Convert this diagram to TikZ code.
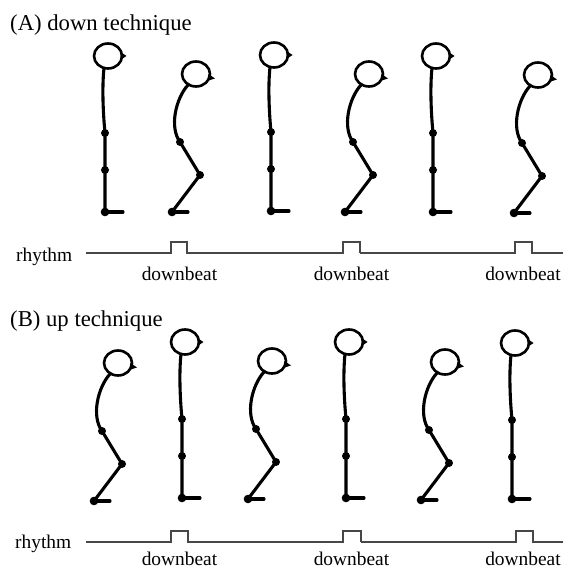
\documentclass[tikz,border=0pt]{standalone}
\usepackage{fontspec}
\setmainfont{Liberation Serif}
\usepackage{tikz}

\begin{document}
\begin{tikzpicture}[
    x=1pt, y=-1pt,
    heading/.style={anchor=base west, inner sep=0pt, font=\fontsize{22.7}{26}\selectfont},
    tag/.style={anchor=base west, inner sep=0pt, font=\fontsize{19.4}{22}\selectfont},
    beat/.style={anchor=base, inner sep=0pt, font=\fontsize{19.4}{22}\selectfont},
    body/.style={line width=3.1pt, line cap=round, line join=round},
    skull/.style={line width=2.6pt},
    wave/.style={draw=black!72, line width=1.2pt},
    wavebold/.style={draw=black!72, line width=1.7pt},
    standfig/.pic={
        \draw[body] (0,0) -- (18,0);
        \draw[body] (0,0) -- (0,-79) .. controls (-2,-100) and (-3,-125) .. (-1,-144);
        \draw[skull] (3,-156) ellipse (14pt and 12.5pt);
        \fill (15.5,-160) -- (21.5,-156) -- (15.5,-152) -- cycle;
        \fill (0,0) circle (4.3pt);
        \fill (0,-42) circle (4pt);
        \fill (0,-79) circle (4pt);
    },
    bentfig/.pic={
        \draw[body] (0,0) -- (16,0);
        \draw[body] (0,0) -- (28,-37) -- (8,-70) .. controls (-3,-85) and (4,-114) .. (16,-127);
        \draw[skull] (24,-138) ellipse (14pt and 12.5pt);
        \fill (36.5,-138) -- (43,-133.5) -- (35,-131) -- cycle;
        \fill (0,0) circle (4.3pt);
        \fill (28,-37) circle (4pt);
        \fill (8,-70) circle (4pt);
    }
]
\useasboundingbox (0,0) rectangle (563,569);

% (A) down technique
\node (titleA) [heading] at (10,31) {(A) down technique};

\pic at (105,212) {standfig};
\pic at (172,212) {bentfig};
\pic at (271,211) {standfig};
\pic at (345,212) {bentfig};
\pic at (433,212) {standfig};
\pic at (514,213) {bentfig};

\node (rhythmA) [tag] at (16,261) {rhythm};
\draw [wave] (86,253) -- (171,253) -- (171,242) -- (187,242) -- (187,253) -- (343,253)
    -- (343,242) -- (360,242) -- (360,253);
\draw [wavebold] (360,253) -- (515,253) -- (515,242) -- (532,242) -- (532,253) -- (563,253);
\node (beatA1) [beat] at (179.5,280) {downbeat};
\node (beatA2) [beat] at (351.5,280) {downbeat};
\node (beatA3) [beat] at (523,280) {downbeat};

% (B) up technique
\node (titleB) [heading] at (10,326) {(B) up technique};

\pic at (94,501) {bentfig};
\pic at (182,498) {standfig};
\pic at (248,499) {bentfig};
\pic at (346,498) {standfig};
\pic at (421,500) {bentfig};
\pic at (512,499) {standfig};

\node (rhythmB) [tag] at (15,548) {rhythm};
\draw [wave] (86,542) -- (171,542) -- (171,531) -- (188,531) -- (188,542) -- (343,542)
    -- (343,531) -- (361,531) -- (361,542);
\draw [wavebold] (361,542) -- (516,542) -- (516,531) -- (533,531) -- (533,542) -- (563,542);
\node (beatB1) [beat] at (179.5,565) {downbeat};
\node (beatB2) [beat] at (351.5,565) {downbeat};
\node (beatB3) [beat] at (523,565) {downbeat};

\end{tikzpicture}
\end{document}
